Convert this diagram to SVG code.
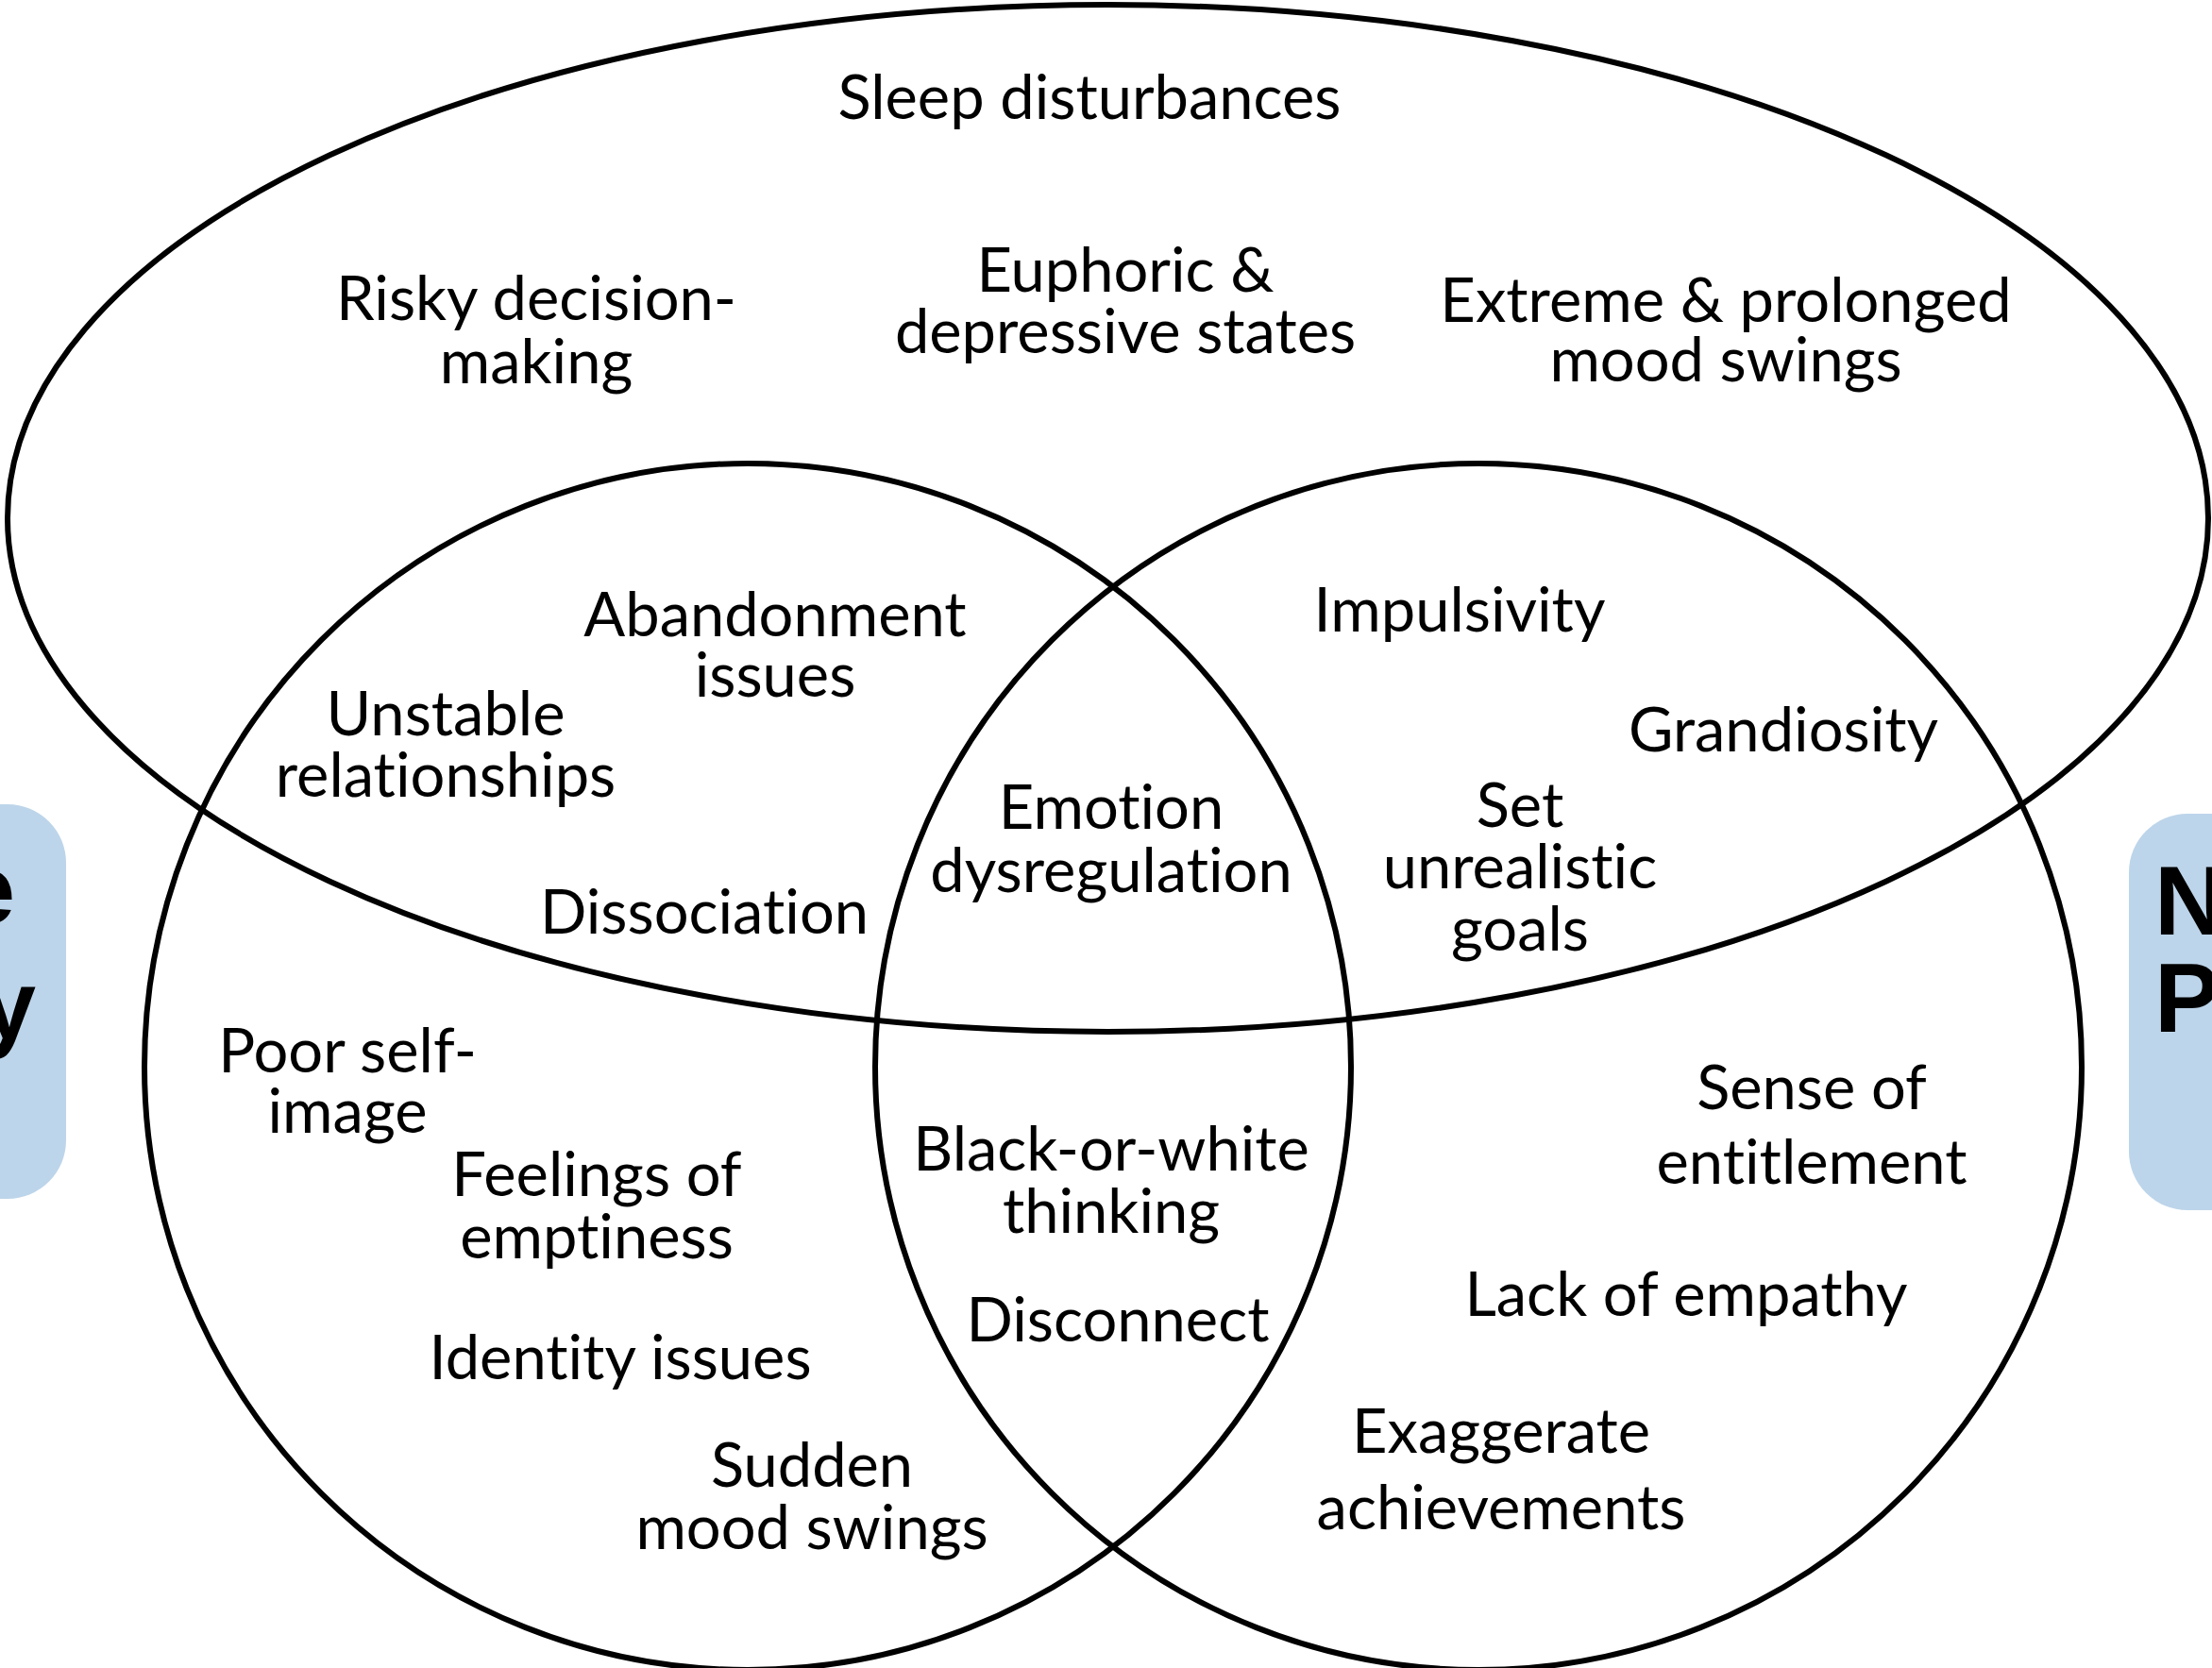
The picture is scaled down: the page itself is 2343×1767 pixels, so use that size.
<svg xmlns="http://www.w3.org/2000/svg" width="2343" height="1767" viewBox="0 0 2343 1767">
<style>
.shape{fill:none;stroke:#000;stroke-width:6}
.box{fill:#BDD5EA}
.t{font-family:Lato,"Liberation Sans",sans-serif;font-size:65px;fill:#000;text-anchor:middle;font-variant-ligatures:none;font-feature-settings:"liga" 0}
.b{font-family:"Liberation Sans",Arial,sans-serif;font-weight:bold;font-size:104px;fill:#000}
</style>
<rect width="2343" height="1767" fill="#fff"/>
<g id="label-left">
<rect class="box" x="-120" y="852" width="190" height="418" rx="62"/>
<text class="b" text-anchor="end"><tspan x="16" y="978">e</tspan><tspan x="38" y="1100">y</tspan></text>
</g>
<g id="label-right">
<rect class="box" x="2255" y="862" width="200" height="420" rx="62"/>
<text class="b"><tspan x="2282" y="990">N</tspan><tspan x="2282" y="1093">P</tspan></text>
</g>
<g id="set-top"><ellipse class="shape" cx="1173.5" cy="549" rx="1165.5" ry="544"/></g>
<g id="set-left"><circle class="shape" cx="792" cy="1130" r="639"/></g>
<g id="set-right"><circle class="shape" cx="1566" cy="1130" r="639"/></g>
<g id="connectors"/>
<g id="n-sleep"><text class="t" x="1154" y="126">Sleep disturbances</text></g>
<g id="n-risky"><text class="t"><tspan x="568" y="339">Risky decision-</tspan><tspan x="568" y="406">making</tspan></text></g>
<g id="n-euphoric"><text class="t"><tspan x="1192" y="309">Euphoric &amp;</tspan><tspan x="1192" y="374">depressive states</tspan></text></g>
<g id="n-extreme"><text class="t"><tspan x="1828" y="341">Extreme &amp; prolonged</tspan><tspan x="1828" y="404">mood swings</tspan></text></g>
<g id="n-abandon"><text class="t"><tspan x="821" y="674">Abandonment</tspan><tspan x="821" y="738">issues</tspan></text></g>
<g id="n-unstable"><text class="t"><tspan x="472" y="779">Unstable</tspan><tspan x="472" y="844">relationships</tspan></text></g>
<g id="n-dissoc"><text class="t" x="746" y="989">Dissociation</text></g>
<g id="n-emotion"><text class="t"><tspan x="1177" y="878">Emotion</tspan><tspan x="1177" y="945">dysregulation</tspan></text></g>
<g id="n-impuls"><text class="t" x="1546" y="669">Impulsivity</text></g>
<g id="n-grand"><text class="t" x="1889" y="796">Grandiosity</text></g>
<g id="n-setgoals"><text class="t"><tspan x="1610" y="876">Set</tspan><tspan x="1610" y="941">unrealistic</tspan><tspan x="1610" y="1007">goals</tspan></text></g>
<g id="n-poor"><text class="t"><tspan x="368" y="1136">Poor self-</tspan><tspan x="368" y="1200">image</tspan></text></g>
<g id="n-feelings"><text class="t"><tspan x="632" y="1267">Feelings of</tspan><tspan x="632" y="1333">emptiness</tspan></text></g>
<g id="n-identity"><text class="t" x="657" y="1461">Identity issues</text></g>
<g id="n-sudden"><text class="t"><tspan x="860" y="1575">Sudden</tspan><tspan x="860" y="1641">mood swings</tspan></text></g>
<g id="n-black"><text class="t"><tspan x="1177" y="1240">Black-or-white</tspan><tspan x="1177" y="1306">thinking</tspan></text></g>
<g id="n-disconnect"><text class="t" x="1184" y="1421">Disconnect</text></g>
<g id="n-sense"><text class="t"><tspan x="1919" y="1175">Sense of</tspan><tspan x="1919" y="1254">entitlement</tspan></text></g>
<g id="n-lack"><text class="t" x="1786" y="1394">Lack of empathy</text></g>
<g id="n-exag"><text class="t"><tspan x="1590" y="1539">Exaggerate</tspan><tspan x="1590" y="1620">achievements</tspan></text></g>
</svg>
